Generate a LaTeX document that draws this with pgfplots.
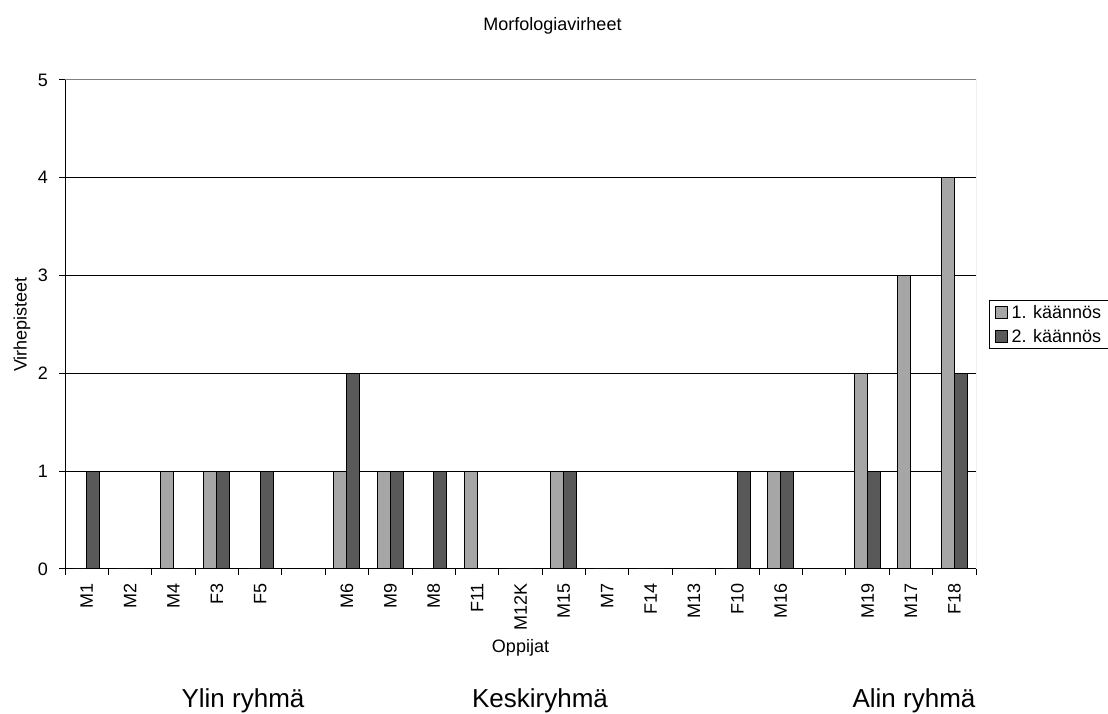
\documentclass[border=0pt]{standalone}
\usepackage{fontspec}
\setmainfont{Liberation Sans}
\usepackage{pgfplots}
\pgfplotsset{compat=1.18}

\definecolor{firstrun}{HTML}{A6A6A6}
\definecolor{secondrun}{HTML}{595959}
\definecolor{plotframe}{HTML}{808080}

\newcommand{\labelfont}{\fontsize{18}{22}\selectfont}

\begin{document}
\begin{tikzpicture}[x=1pt,y=1pt]
\useasboundingbox (0,0) rectangle (1108,714);
\begin{axis}[
  at={(65pt,145pt)}, anchor=south west,
  width=911pt, height=489pt, scale only axis,
  xmin=-0.5, xmax=20.5, ymin=0, ymax=5,
  ybar=0pt, bar width=13pt,
  axis x line*=bottom, axis y line*=left,
  axis line style={black, line width=1pt, -},
  tick align=outside,
  tick style={black, line width=1pt},
  major tick length=6pt,
  /pgf/number format/assume math mode=true,
  ytick={0,1,2,3,4,5},
  ymajorgrids,
  grid style={black, line width=1pt},
  xtick={-0.5,0.5,...,20.5},
  x tick label as interval,
  xticklabels={M1,M2,M4,F3,F5,{},M6,M9,M8,F11,M12K,M15,M7,F14,M13,F10,M16,{},M19,M17,F18},
  x tick label style={rotate=90, anchor=east, inner xsep=8pt, inner ysep=0pt, font=\labelfont},
  y tick label style={anchor=east, inner xsep=11pt, inner ysep=0pt, font=\labelfont},
  legend style={at={(1.0143,0.5)}, anchor=west, draw=black, line width=1pt,
    font=\labelfont, inner xsep=5pt, inner ysep=3pt, row sep=5pt, column sep=2pt,
    cells={anchor=west}},
  legend cell align=left,
]
\addplot[fill=firstrun, draw=black, line width=1pt,
  legend image code/.code={\draw[fill=firstrun, draw=black, line width=1pt] (0pt,-6pt) rectangle (12pt,6pt);}]
  coordinates {(0,0) (1,0) (2,1) (3,1) (4,0) (6,1) (7,1) (8,0) (9,1) (10,0)
               (11,1) (12,0) (13,0) (14,0) (15,0) (16,1) (18,2) (19,3) (20,4)};
\addlegendentry{1. käännös}
\addplot[fill=secondrun, draw=black, line width=1pt,
  legend image code/.code={\draw[fill=secondrun, draw=black, line width=1pt] (0pt,-6pt) rectangle (12pt,6pt);}]
  coordinates {(0,1) (1,0) (2,0) (3,1) (4,1) (6,2) (7,1) (8,1) (9,0) (10,0)
               (11,1) (12,0) (13,0) (14,0) (15,1) (16,1) (18,1) (19,0) (20,2)};
\addlegendentry{2. käännös}
% grey frame on the top and right of the plot area
\draw[plotframe, line width=1pt] (rel axis cs:0,1) -- (rel axis cs:1,1) -- (rel axis cs:1,0);
\end{axis}
\node[anchor=base, font=\labelfont] at (552.5,683.3) {Morfologiavirheet};
\node[anchor=base, rotate=90, font=\labelfont] at (26.5,389.5) {Virhepisteet};
\node[anchor=base, font=\labelfont] at (520.5,61) {Oppijat};
\node[anchor=base, font=\fontsize{26}{30}\selectfont] at (243,6.7) {Ylin ryhmä};
\node[anchor=base, font=\fontsize{26}{30}\selectfont] at (540,6.7) {Keskiryhmä};
\node[anchor=base, font=\fontsize{26}{30}\selectfont] at (914,6.7) {Alin ryhmä};
\end{tikzpicture}
\end{document}
